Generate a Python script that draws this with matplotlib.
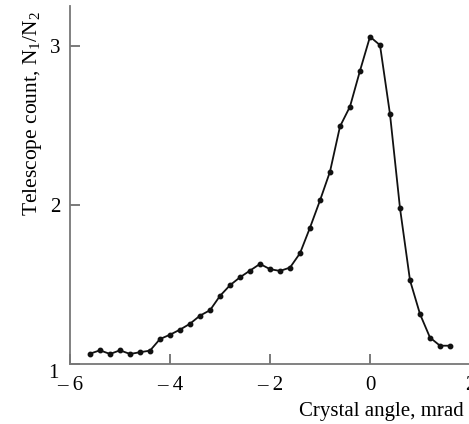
import numpy as np
import matplotlib
matplotlib.use('Agg')
import matplotlib.pyplot as plt
import matplotlib.transforms as mtransforms

# crystal angle (mrad) and telescope count ratio N1/N2
angle = [-5.6, -5.4, -5.2, -5.0, -4.8, -4.6, -4.4, -4.2, -4.0, -3.8,
         -3.6, -3.4, -3.2, -3.0, -2.8, -2.6, -2.4, -2.2, -2.0, -1.8,
         -1.6, -1.4, -1.2, -1.0, -0.8, -0.6, -0.4, -0.2, 0.0, 0.2,
         0.4, 0.6, 0.8, 1.0, 1.2, 1.4, 1.6]
count = [1.065, 1.086, 1.063, 1.086, 1.063, 1.074, 1.084, 1.157, 1.184, 1.216,
         1.253, 1.304, 1.338, 1.428, 1.495, 1.545, 1.587, 1.629, 1.596, 1.585,
         1.606, 1.696, 1.857, 2.028, 2.209, 2.493, 2.618, 2.843, 3.057, 3.004,
         2.570, 1.979, 1.526, 1.314, 1.166, 1.115, 1.115]

xticks = [-6, -4, -2, 0, 2]
xticklabels = ['\u2013 6', '\u2013 4', '\u2013 2', '0', '2']
yticks = [1, 2, 3]

plt.rcParams['font.family'] = ['Liberation Serif', 'DejaVu Serif']
plt.rcParams['mathtext.fontset'] = 'custom'
plt.rcParams['mathtext.rm'] = 'Liberation Serif'

fig = plt.figure(figsize=(4.69, 4.24), dpi=100)
ax = fig.add_axes([70/469, 60/424, 400/469, 358/424])

ax.plot(angle, count, color='#111111', lw=1.3, marker='o', ms=3.2)

ax.set_xlim(-6, 2)
ax.set_ylim(1, 3.25)
ax.set_xticks(xticks)
ax.set_xticklabels(xticklabels)
ax.set_yticks(yticks)

for s in ['top', 'right']:
    ax.spines[s].set_visible(False)
for s in ['left', 'bottom']:
    ax.spines[s].set_color('#777777')
    ax.spines[s].set_linewidth(1.3)

ax.tick_params(direction='in', length=7, width=1.1, color='#555555',
               labelsize=15)
ax.tick_params(axis='x', pad=9)
ax.tick_params(axis='y', pad=7)

# the "1" sits a little below the corner in the original
lab1 = ax.get_yticklabels()[0]
lab1.set_transform(lab1.get_transform() +
                   mtransforms.ScaledTranslation(-2/100, -7/100, fig.dpi_scale_trans))

ax.set_ylabel('Telescope count, N$_\\mathrm{1}$/N$_\\mathrm{2}$', fontsize=15.5)
ax.yaxis.set_label_coords(-0.065, 0.70)
ax.set_xlabel('Crystal angle, mrad', fontsize=15, ha='right')
ax.xaxis.set_label_coords(0.985, -0.105)

fig.savefig('out.png', dpi=100)
